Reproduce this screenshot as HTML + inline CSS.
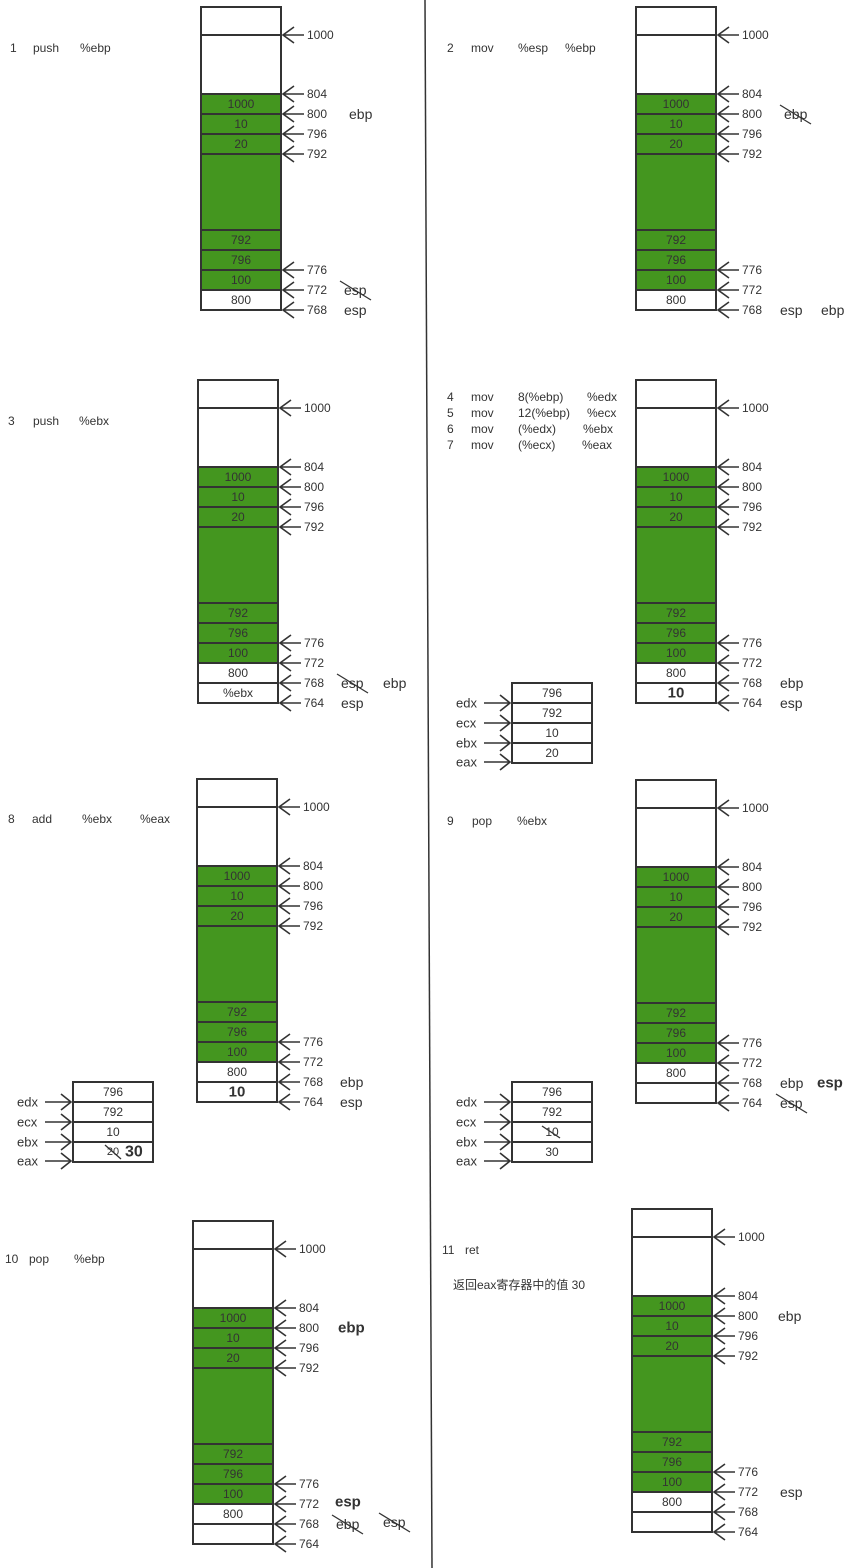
<!DOCTYPE html>
<html><head><meta charset="utf-8"><style>
html,body{margin:0;padding:0;background:#fff;}
svg{display:block;font-family:"Liberation Sans","Noto Sans CJK SC",sans-serif;}
</style></head><body>
<svg id="c" width="857" height="1568" viewBox="0 0 857 1568" xmlns="http://www.w3.org/2000/svg">
<line x1="425" y1="0" x2="432" y2="1568" stroke="#333" stroke-width="1.5"/>
</svg>
<script>
const NS='http://www.w3.org/2000/svg';
const svg=document.getElementById('c');
const GREEN='#44961f';
const panelX=[201,636,198,636,197,636,193,632];
const panelTop=[7,7,380,380,779,780,1221,1209];
const extraCells=[['800'],['800'],['800','%ebx'],['800','10*'],['800','10*'],['800',''],['800',''],['800','']];
const baseCells=['','','1000','10','20','','792','796','100'];
const baseOffsets=[0,28,87,107,127,147,223,243,263,283];
const arrowLabels=['1000','804','800','796','792','776','772','768','764'];
const arrowOffsets=[28,87,107,127,147,263,283,303,323];
function el(tag,attrs,parent){const e=document.createElementNS(NS,tag);for(const k in attrs)e.setAttribute(k,attrs[k]);(parent||svg).appendChild(e);return e;}
function txt(x,y,s,size,anchor,weight,parent){const t=el('text',{x:x,y:y,'font-size':size||12,fill:'#333','text-anchor':anchor||'start','dominant-baseline':'central','font-weight':weight||'normal'},parent);t.textContent=s;return t;}
for(let p=0;p<8;p++){
  const g=el('g',{});
  
  
  const x=panelX[p],top=panelTop[p],w=80;
  const offs=baseOffsets.slice();
  extraCells[p].forEach((c,i)=>{offs.push(283+20*(i+1));});
  const cells=baseCells.concat(extraCells[p]);
  for(let i=0;i<cells.length;i++){
    const y0=top+offs[i],y1=top+offs[i+1];
    const green=i>=2&&i<=8;
    const r=el('rect',{x:x,y:y0,width:w,height:y1-y0,fill:green?GREEN:'#fff',stroke:'#333','stroke-width':2},g);
    
    
    let s=cells[i];
    if(s){const bold=s.endsWith('*');if(bold)s=s.slice(0,-1);txt(x+w/2,(y0+y1)/2,s,bold?15:12,'middle',bold?'bold':'normal',g);}
  }
  const bottom=top+offs[offs.length-1];
  for(let i=0;i<arrowLabels.length;i++){
    const y=top+arrowOffsets[i];
    if(y>bottom+1)continue;
    const ax=x+w+2;
    const a=el('path',{d:`M${ax+11},${y-8} L${ax},${y} L${ax+11},${y+8} M${ax},${y} L${ax+21},${y}`,stroke:'#333','stroke-width':1.6,fill:'none'},g);
    
    
    txt(ax+24,y,arrowLabels[i],12,'start','normal',g);
  }
}
// register boxes
const regX=[512,73,512];
const regTop=[683,1082,1082];
const regVals=[['796','792','10','20'],['796','792','10','20|30'],['796','792','10x','30']];
const regNames=['edx','ecx','ebx','eax'];
const regArrowY=[703,723,743,762];
for(let b=0;b<3;b++){
  const g=el('g',{});
  
  
  const x=regX[b],t=regTop[b];
  regVals[b].forEach((v,i)=>{
    el('rect',{x:x,y:t+20*i,width:80,height:20,fill:'#fff',stroke:'#333','stroke-width':2},g);
    const cy=t+20*i+10;
    if(v.includes('|')){const [o,n]=v.split('|');txt(x+40,cy,o,11,'middle','normal',g);el('line',{x1:x+32,y1:cy-7,x2:x+48,y2:cy+7,stroke:'#333','stroke-width':1.3},g);txt(x+52,cy,n,16,'start','bold',g);}
    else if(v.endsWith('x')){txt(x+40,cy,v.slice(0,-1),12,'middle','normal',g);el('line',{x1:x+30,y1:cy-6,x2:x+48,y2:cy+6,stroke:'#333','stroke-width':1.3},g);}
    else txt(x+40,cy,v,12,'middle','normal',g);
  });
  regNames.forEach((n,i)=>{
    const y=t+20+20*i-(i==3?1:0);
    el('path',{d:`M${x-28},${y} L${x-2},${y} M${x-12},${y-8} L${x-2},${y} L${x-12},${y+8}`,stroke:'#333','stroke-width':1.6,fill:'none'},g);
    txt(x-56,y,n,13,'start','normal',g);
  });
}
// side labels: x,y,text,bold,crossed
const sideLabels=[
 [349,114,'ebp',0,0],[344,290,'esp',0,1],[344,310,'esp',0,0],
 [784,114,'ebp',0,1],[780,310,'esp',0,0],[821,310,'ebp',0,0],
 [341,683,'esp',0,1],[383,683,'ebp',0,0],[341,703,'esp',0,0],
 [780,683,'ebp',0,0],[780,703,'esp',0,0],
 [340,1082,'ebp',0,0],[340,1102,'esp',0,0],
 [780,1083,'ebp',0,0],[817,1083,'esp',1,0],[780,1103,'esp',0,1],
 [338,1328,'ebp',1,0],[335,1502,'esp',1,0],[336,1524,'ebp',0,1],[383,1522,'esp',0,1],
 [778,1316,'ebp',0,0],[780,1492,'esp',0,0]];
sideLabels.forEach(l=>{
  const t=txt(l[0],l[1],l[2],l[3]?15:14,'start',l[3]?'bold':'normal');
  
  
  if(l[4])el('line',{x1:l[0]-4,y1:l[1]-9,x2:l[0]+27,y2:l[1]+10,stroke:'#333','stroke-width':1.3});
});
// instructions
const instr=[
 [10,48,['1','push','%ebp'],[0,23,70]],
 [447,48,['2','mov','%esp','%ebp'],[0,24,71,118]],
 [8,421,['3','push','%ebx'],[0,25,71]],
 [447,397,['4','mov','8(%ebp)','%edx'],[0,24,71,140]],
 [447,413,['5','mov','12(%ebp)','%ecx'],[0,24,71,140]],
 [447,429,['6','mov','(%edx)','%ebx'],[0,24,71,136]],
 [447,445,['7','mov','(%ecx)','%eax'],[0,24,71,135]],
 [8,819,['8','add','%ebx','%eax'],[0,24,74,132]],
 [447,821,['9','pop','%ebx'],[0,25,70]],
 [5,1259,['10','pop','%ebp'],[0,24,69]],
 [442,1250,['11','ret'],[0,23]],
 [453,1285,['返回eax寄存器中的值 30'],[0]]];
instr.forEach(r=>{
  const g=el('g',{});
  
  
  r[2].forEach((s,i)=>txt(r[0]+r[3][i],r[1],s,12,'start','normal',g));
});
</script>
</body></html>
